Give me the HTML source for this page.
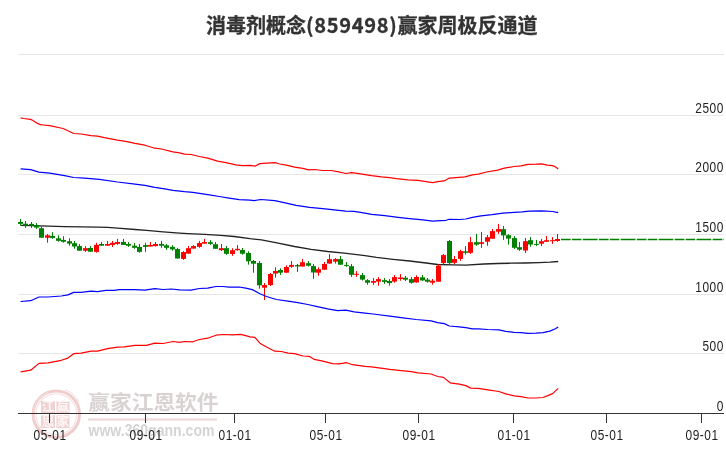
<!DOCTYPE html>
<html><head><meta charset="utf-8"><style>
html,body{margin:0;padding:0;background:#fff;}
body{width:726px;height:450px;overflow:hidden;position:relative;}
.title{position:absolute;left:206px;top:9.8px;text-align:left;-webkit-text-stroke:0.3px #333;font-family:"Noto Sans CJK SC","Liberation Sans",sans-serif;font-weight:bold;font-size:20px;line-height:30px;color:#333;white-space:nowrap;}
svg{position:absolute;left:0;top:0;}
.num{letter-spacing:0.7px;}
</style></head><body>
<div class="title">消毒剂概念<span class="num">(859498)</span>赢家周极反通道</div>
<svg width="726" height="450" viewBox="0 0 726 450">
<line x1="18" y1="54.5" x2="724" y2="54.5" stroke="#e6e6e6" stroke-width="1"/>
<line x1="18" y1="115.5" x2="724" y2="115.5" stroke="#e6e6e6" stroke-width="1"/>
<line x1="18" y1="174.5" x2="724" y2="174.5" stroke="#e6e6e6" stroke-width="1"/>
<line x1="18" y1="234.5" x2="724" y2="234.5" stroke="#e6e6e6" stroke-width="1"/>
<line x1="18" y1="294.5" x2="724" y2="294.5" stroke="#e6e6e6" stroke-width="1"/>
<line x1="18" y1="353.5" x2="724" y2="353.5" stroke="#e6e6e6" stroke-width="1"/>
<g>
<circle cx="56.3" cy="414.2" r="23.2" fill="none" stroke="#efcdcd" stroke-width="3"/>
<path d="M65 389.5 A26 26 0 0 1 79 402" fill="none" stroke="#f4dede" stroke-width="1"/>
<circle cx="56.3" cy="414.2" r="20.4" fill="none" stroke="#f6e3e3" stroke-width="1.2"/>
<path d="M34.5 420 A22.5 22.5 0 0 1 48 393" fill="none" stroke="#f3dada" stroke-width="1.5"/>
<rect x="41" y="401" width="14" height="12" fill="#f0d2d2"/>
<text x="48.0" y="411.4" font-size="12.5" text-anchor="middle" fill="#fcf6f6" font-family="Noto Sans CJK SC, sans-serif" font-weight="bold">江</text>
<rect x="56.5" y="401" width="13" height="12" fill="#f0d2d2"/>
<text x="63.0" y="411.4" font-size="12.5" text-anchor="middle" fill="#fcf6f6" font-family="Noto Sans CJK SC, sans-serif" font-weight="bold">赢</text>
<rect x="41" y="415.3" width="14" height="12.7" fill="#f0d2d2"/>
<text x="48.0" y="426.4" font-size="12.5" text-anchor="middle" fill="#fcf6f6" font-family="Noto Sans CJK SC, sans-serif" font-weight="bold">恩</text>
<rect x="56.5" y="415.3" width="13" height="12.7" fill="#f0d2d2"/>
<text x="63.0" y="426.4" font-size="12.5" text-anchor="middle" fill="#fcf6f6" font-family="Noto Sans CJK SC, sans-serif" font-weight="bold">家</text>
</g>
<text transform="translate(88.2,409.6) scale(0.988,0.925)" font-size="22" font-weight="bold" fill="#d8d2d2" font-family="Liberation Sans, Noto Sans CJK SC, sans-serif">赢家江恩软件</text>
<rect x="88" y="418.3" width="129" height="2.4" fill="#efdcdc"/>
<text x="88.5" y="436" font-size="17" font-weight="bold" fill="#d4d4d4" font-family="Liberation Sans, sans-serif" textLength="126" lengthAdjust="spacingAndGlyphs">www.360gann.com</text>
<polyline points="20.9,225.4 31.5,225.7 48.1,226.2 64.6,226.6 81.1,226.9 97.6,227.2 107.6,227.4 117.5,228.2 135.0,229.5 146.5,230.4 163.1,231.9 179.6,233.2 187.9,233.7 204.4,234.4 220.9,235.4 234.1,236.5 250.0,238.7 261.5,239.9 278.1,243.2 294.6,246.5 311.1,249.3 327.6,251.5 344.2,253.1 365.0,255.6 376.5,257.4 393.0,259.3 409.6,261.0 426.1,263.0 437.7,264.5 452.6,264.8 465.8,265.1 483.8,264.0 497.5,263.5 511.3,263.2 525.1,263.0 538.9,262.6 549.9,262.1 558.2,261.5" fill="none" stroke="#222" stroke-width="1.3" stroke-linejoin="round"/>
<rect x="20" y="219.0" width="1" height="6.7" fill="#008000"/>
<rect x="18" y="222.0" width="5" height="1.9" fill="#008000"/>
<rect x="25" y="221.0" width="1" height="6.9" fill="#008000"/>
<rect x="23" y="223.7" width="5" height="1.8" fill="#008000"/>
<rect x="31" y="222.0" width="1" height="5.9" fill="#008000"/>
<rect x="29" y="223.9" width="5" height="1.8" fill="#008000"/>
<rect x="36" y="223.0" width="1" height="5.8" fill="#008000"/>
<rect x="34" y="225.2" width="5" height="2.4" fill="#008000"/>
<rect x="41" y="226.1" width="1" height="11.6" fill="#008000"/>
<rect x="39" y="228.2" width="5" height="9.5" fill="#008000"/>
<rect x="47" y="234.1" width="1" height="8.6" fill="#ff0000"/>
<rect x="45" y="235.3" width="5" height="2.4" fill="#ff0000"/>
<rect x="52" y="232.2" width="1" height="6.6" fill="#008000"/>
<rect x="50" y="235.9" width="5" height="2.0" fill="#008000"/>
<rect x="58" y="235.3" width="1" height="6.4" fill="#008000"/>
<rect x="56" y="238.3" width="5" height="2.5" fill="#008000"/>
<rect x="63" y="236.2" width="1" height="6.5" fill="#008000"/>
<rect x="61" y="239.9" width="5" height="1.9" fill="#008000"/>
<rect x="69" y="238.3" width="1" height="7.4" fill="#008000"/>
<rect x="67" y="241.2" width="5" height="2.4" fill="#008000"/>
<rect x="74" y="241.0" width="1" height="7.8" fill="#008000"/>
<rect x="72" y="243.2" width="5" height="3.3" fill="#008000"/>
<rect x="79" y="244.0" width="1" height="6.7" fill="#008000"/>
<rect x="77" y="246.1" width="5" height="4.6" fill="#008000"/>
<rect x="85" y="246.1" width="1" height="5.8" fill="#ff0000"/>
<rect x="83" y="248.2" width="5" height="2.5" fill="#ff0000"/>
<rect x="90" y="246.0" width="1" height="5.9" fill="#008000"/>
<rect x="88" y="248.0" width="5" height="3.7" fill="#008000"/>
<rect x="96" y="242.8" width="1" height="9.9" fill="#ff0000"/>
<rect x="94" y="244.9" width="5" height="7.0" fill="#ff0000"/>
<rect x="101" y="242.0" width="1" height="3.7" fill="#008000"/>
<rect x="99" y="244.0" width="5" height="1.7" fill="#008000"/>
<rect x="107" y="240.9" width="1" height="4.8" fill="#ff0000"/>
<rect x="105" y="244.0" width="5" height="1.7" fill="#ff0000"/>
<rect x="112" y="240.9" width="1" height="6.0" fill="#ff0000"/>
<rect x="110" y="242.8" width="5" height="2.1" fill="#ff0000"/>
<rect x="117" y="238.9" width="1" height="6.0" fill="#ff0000"/>
<rect x="115" y="242.0" width="5" height="1.9" fill="#ff0000"/>
<rect x="123" y="238.9" width="1" height="6.0" fill="#008000"/>
<rect x="121" y="242.0" width="5" height="2.9" fill="#008000"/>
<rect x="128" y="242.0" width="1" height="4.9" fill="#008000"/>
<rect x="126" y="244.0" width="5" height="1.7" fill="#008000"/>
<rect x="134" y="243.0" width="1" height="5.8" fill="#008000"/>
<rect x="132" y="245.7" width="5" height="2.1" fill="#008000"/>
<rect x="139" y="244.0" width="1" height="8.7" fill="#008000"/>
<rect x="137" y="246.9" width="5" height="5.0" fill="#008000"/>
<rect x="145" y="242.8" width="1" height="9.1" fill="#008000"/>
<rect x="143" y="245.1" width="5" height="1.8" fill="#008000"/>
<rect x="150" y="242.0" width="1" height="4.5" fill="#ff0000"/>
<rect x="148" y="244.9" width="5" height="1.6" fill="#ff0000"/>
<rect x="155" y="242.0" width="1" height="4.5" fill="#ff0000"/>
<rect x="153" y="244.0" width="5" height="2.1" fill="#ff0000"/>
<rect x="161" y="240.9" width="1" height="6.9" fill="#008000"/>
<rect x="159" y="243.9" width="5" height="1.8" fill="#008000"/>
<rect x="166" y="244.0" width="1" height="5.8" fill="#008000"/>
<rect x="164" y="245.3" width="5" height="2.5" fill="#008000"/>
<rect x="172" y="245.1" width="1" height="5.6" fill="#008000"/>
<rect x="170" y="246.9" width="5" height="2.5" fill="#008000"/>
<rect x="177" y="247.8" width="1" height="10.7" fill="#008000"/>
<rect x="175" y="249.0" width="5" height="9.5" fill="#008000"/>
<rect x="183" y="251.1" width="1" height="8.7" fill="#ff0000"/>
<rect x="181" y="252.1" width="5" height="6.8" fill="#ff0000"/>
<rect x="188" y="246.0" width="1" height="7.8" fill="#ff0000"/>
<rect x="186" y="248.2" width="5" height="5.4" fill="#ff0000"/>
<rect x="193" y="245.1" width="1" height="3.5" fill="#ff0000"/>
<rect x="191" y="246.1" width="5" height="2.5" fill="#ff0000"/>
<rect x="199" y="240.9" width="1" height="6.9" fill="#ff0000"/>
<rect x="197" y="243.0" width="5" height="3.9" fill="#ff0000"/>
<rect x="204" y="238.9" width="1" height="4.7" fill="#ff0000"/>
<rect x="202" y="242.0" width="5" height="1.6" fill="#ff0000"/>
<rect x="210" y="240.1" width="1" height="4.8" fill="#008000"/>
<rect x="208" y="242.2" width="5" height="1.7" fill="#008000"/>
<rect x="215" y="242.0" width="1" height="6.8" fill="#008000"/>
<rect x="213" y="244.2" width="5" height="4.6" fill="#008000"/>
<rect x="221" y="244.0" width="1" height="7.1" fill="#ff0000"/>
<rect x="219" y="248.2" width="5" height="2.0" fill="#ff0000"/>
<rect x="226" y="246.1" width="1" height="8.7" fill="#008000"/>
<rect x="224" y="248.2" width="5" height="5.6" fill="#008000"/>
<rect x="232" y="248.2" width="1" height="7.6" fill="#ff0000"/>
<rect x="230" y="250.2" width="5" height="3.8" fill="#ff0000"/>
<rect x="237" y="245.1" width="1" height="5.6" fill="#ff0000"/>
<rect x="235" y="248.8" width="5" height="1.4" fill="#ff0000"/>
<rect x="242" y="248.0" width="1" height="6.7" fill="#008000"/>
<rect x="240" y="250.0" width="5" height="3.7" fill="#008000"/>
<rect x="248" y="251.3" width="1" height="13.4" fill="#008000"/>
<rect x="246" y="253.0" width="5" height="8.3" fill="#008000"/>
<rect x="253" y="260.0" width="1" height="12.7" fill="#008000"/>
<rect x="251" y="261.0" width="5" height="2.7" fill="#008000"/>
<rect x="259" y="261.0" width="1" height="27.7" fill="#008000"/>
<rect x="257" y="263.0" width="5" height="22.3" fill="#008000"/>
<rect x="264" y="283.0" width="1" height="17.0" fill="#ff0000"/>
<rect x="262" y="285.0" width="5" height="2.7" fill="#ff0000"/>
<rect x="270" y="273.0" width="1" height="13.0" fill="#ff0000"/>
<rect x="268" y="274.0" width="5" height="11.0" fill="#ff0000"/>
<rect x="275" y="267.3" width="1" height="10.3" fill="#ff0000"/>
<rect x="273" y="271.0" width="5" height="2.6" fill="#ff0000"/>
<rect x="280" y="268.3" width="1" height="6.7" fill="#008000"/>
<rect x="278" y="270.0" width="5" height="2.7" fill="#008000"/>
<rect x="286" y="265.3" width="1" height="7.4" fill="#ff0000"/>
<rect x="284" y="267.0" width="5" height="5.7" fill="#ff0000"/>
<rect x="291" y="261.0" width="1" height="6.8" fill="#ff0000"/>
<rect x="289" y="264.9" width="5" height="1.9" fill="#ff0000"/>
<rect x="297" y="264.0" width="1" height="7.9" fill="#008000"/>
<rect x="295" y="265.1" width="5" height="1.4" fill="#008000"/>
<rect x="302" y="258.9" width="1" height="7.6" fill="#ff0000"/>
<rect x="300" y="262.2" width="5" height="4.3" fill="#ff0000"/>
<rect x="308" y="261.0" width="1" height="5.5" fill="#008000"/>
<rect x="306" y="263.2" width="5" height="2.5" fill="#008000"/>
<rect x="313" y="264.0" width="1" height="14.9" fill="#008000"/>
<rect x="311" y="266.1" width="5" height="6.4" fill="#008000"/>
<rect x="318" y="267.2" width="1" height="8.6" fill="#ff0000"/>
<rect x="316" y="269.2" width="5" height="3.5" fill="#ff0000"/>
<rect x="324" y="262.0" width="1" height="7.7" fill="#ff0000"/>
<rect x="322" y="264.0" width="5" height="5.7" fill="#ff0000"/>
<rect x="329" y="254.1" width="1" height="9.5" fill="#ff0000"/>
<rect x="327" y="259.1" width="5" height="4.5" fill="#ff0000"/>
<rect x="335" y="258.1" width="1" height="5.5" fill="#ff0000"/>
<rect x="333" y="259.1" width="5" height="2.5" fill="#ff0000"/>
<rect x="340" y="256.0" width="1" height="8.7" fill="#008000"/>
<rect x="338" y="259.1" width="5" height="5.6" fill="#008000"/>
<rect x="346" y="262.0" width="1" height="4.9" fill="#008000"/>
<rect x="344" y="264.9" width="5" height="1.0" fill="#008000"/>
<rect x="351" y="263.9" width="1" height="13.0" fill="#008000"/>
<rect x="349" y="266.2" width="5" height="8.6" fill="#008000"/>
<rect x="356" y="271.1" width="1" height="5.8" fill="#ff0000"/>
<rect x="354" y="273.8" width="5" height="1.0" fill="#ff0000"/>
<rect x="362" y="273.0" width="1" height="7.6" fill="#008000"/>
<rect x="360" y="275.1" width="5" height="4.5" fill="#008000"/>
<rect x="367" y="279.1" width="1" height="5.7" fill="#008000"/>
<rect x="365" y="280.2" width="5" height="2.5" fill="#008000"/>
<rect x="373" y="278.1" width="1" height="6.7" fill="#ff0000"/>
<rect x="371" y="281.0" width="5" height="1.7" fill="#ff0000"/>
<rect x="378" y="277.1" width="1" height="8.6" fill="#ff0000"/>
<rect x="376" y="279.1" width="5" height="2.5" fill="#ff0000"/>
<rect x="384" y="278.1" width="1" height="5.8" fill="#008000"/>
<rect x="382" y="280.2" width="5" height="1.7" fill="#008000"/>
<rect x="389" y="279.1" width="1" height="6.6" fill="#008000"/>
<rect x="387" y="281.0" width="5" height="2.1" fill="#008000"/>
<rect x="394" y="275.0" width="1" height="7.7" fill="#ff0000"/>
<rect x="392" y="277.1" width="5" height="4.5" fill="#ff0000"/>
<rect x="400" y="274.0" width="1" height="6.7" fill="#ff0000"/>
<rect x="398" y="277.5" width="5" height="1.5" fill="#ff0000"/>
<rect x="405" y="276.0" width="1" height="5.0" fill="#008000"/>
<rect x="403" y="277.7" width="5" height="2.0" fill="#008000"/>
<rect x="411" y="277.0" width="1" height="6.6" fill="#008000"/>
<rect x="409" y="279.1" width="5" height="3.6" fill="#008000"/>
<rect x="416" y="275.3" width="1" height="7.4" fill="#ff0000"/>
<rect x="414" y="277.0" width="5" height="5.4" fill="#ff0000"/>
<rect x="422" y="275.0" width="1" height="6.0" fill="#008000"/>
<rect x="420" y="277.3" width="5" height="3.1" fill="#008000"/>
<rect x="427" y="278.0" width="1" height="4.7" fill="#008000"/>
<rect x="425" y="279.6" width="5" height="2.1" fill="#008000"/>
<rect x="432" y="279.0" width="1" height="5.7" fill="#ff0000"/>
<rect x="430" y="280.7" width="5" height="2.0" fill="#ff0000"/>
<rect x="438" y="264.4" width="1" height="17.3" fill="#ff0000"/>
<rect x="436" y="265.7" width="5" height="16.0" fill="#ff0000"/>
<rect x="443" y="254.0" width="1" height="10.4" fill="#ff0000"/>
<rect x="441" y="255.0" width="5" height="8.1" fill="#ff0000"/>
<rect x="449" y="240.0" width="1" height="24.4" fill="#008000"/>
<rect x="447" y="241.0" width="5" height="22.1" fill="#008000"/>
<rect x="454" y="256.0" width="1" height="8.0" fill="#ff0000"/>
<rect x="452" y="259.0" width="5" height="3.8" fill="#ff0000"/>
<rect x="460" y="249.8" width="1" height="11.1" fill="#ff0000"/>
<rect x="458" y="251.1" width="5" height="7.8" fill="#ff0000"/>
<rect x="465" y="246.1" width="1" height="8.6" fill="#008000"/>
<rect x="463" y="251.3" width="5" height="1.5" fill="#008000"/>
<rect x="470" y="236.9" width="1" height="17.0" fill="#ff0000"/>
<rect x="468" y="242.2" width="5" height="10.6" fill="#ff0000"/>
<rect x="476" y="233.9" width="1" height="11.9" fill="#008000"/>
<rect x="474" y="242.2" width="5" height="2.5" fill="#008000"/>
<rect x="481" y="232.0" width="1" height="15.8" fill="#ff0000"/>
<rect x="479" y="242.2" width="5" height="1.7" fill="#ff0000"/>
<rect x="487" y="235.0" width="1" height="10.8" fill="#ff0000"/>
<rect x="485" y="237.2" width="5" height="4.5" fill="#ff0000"/>
<rect x="492" y="228.9" width="1" height="9.8" fill="#ff0000"/>
<rect x="490" y="231.1" width="5" height="7.6" fill="#ff0000"/>
<rect x="498" y="223.9" width="1" height="10.0" fill="#ff0000"/>
<rect x="496" y="229.1" width="5" height="2.6" fill="#ff0000"/>
<rect x="503" y="226.0" width="1" height="13.8" fill="#008000"/>
<rect x="501" y="229.2" width="5" height="6.2" fill="#008000"/>
<rect x="508" y="234.1" width="1" height="10.6" fill="#008000"/>
<rect x="506" y="235.2" width="5" height="3.4" fill="#008000"/>
<rect x="514" y="236.0" width="1" height="12.9" fill="#008000"/>
<rect x="512" y="238.1" width="5" height="9.7" fill="#008000"/>
<rect x="519" y="242.0" width="1" height="8.9" fill="#008000"/>
<rect x="517" y="247.2" width="5" height="2.5" fill="#008000"/>
<rect x="525" y="238.1" width="1" height="14.9" fill="#ff0000"/>
<rect x="523" y="241.2" width="5" height="9.3" fill="#ff0000"/>
<rect x="530" y="237.1" width="1" height="9.7" fill="#008000"/>
<rect x="528" y="240.2" width="5" height="4.3" fill="#008000"/>
<rect x="536" y="240.0" width="1" height="6.0" fill="#008000"/>
<rect x="534" y="243.9" width="5" height="1.0" fill="#008000"/>
<rect x="541" y="238.9" width="1" height="7.1" fill="#ff0000"/>
<rect x="539" y="241.2" width="5" height="2.5" fill="#ff0000"/>
<rect x="546" y="236.0" width="1" height="5.8" fill="#ff0000"/>
<rect x="544" y="240.2" width="5" height="1.6" fill="#ff0000"/>
<rect x="552" y="237.1" width="1" height="6.8" fill="#ff0000"/>
<rect x="550" y="240.2" width="5" height="1.0" fill="#ff0000"/>
<rect x="557" y="234.0" width="1" height="7.8" fill="#ff0000"/>
<rect x="555" y="239.0" width="5" height="2.0" fill="#ff0000"/>
<polyline points="20.6,117.9 23.5,118.5 30.5,119.4 32.6,120.3 37.6,123.4 40.4,124.7 43.1,125.0 49.7,125.7 63.0,128.5 67.9,130.7 73.7,133.5 81.1,134.0 91.0,135.6 97.6,136.1 104.3,137.6 117.5,140.2 125.7,141.4 135.0,143.4 144.9,145.2 154.8,148.2 161.4,149.0 173.0,151.9 179.6,152.9 184.5,154.2 191.2,154.5 199.4,156.5 207.7,158.1 217.6,161.1 225.9,162.6 235.8,164.8 242.4,165.6 250.0,165.4 254.9,166.2 259.9,163.6 266.5,163.2 275.6,162.7 279.7,164.0 286.3,165.2 294.6,167.2 302.9,168.3 308.6,169.8 314.4,169.5 322.7,170.5 331.0,170.5 337.6,171.7 345.8,173.5 351.6,172.6 359.0,173.6 371.6,175.6 381.5,176.9 389.8,177.6 396.4,178.6 407.9,179.8 417.9,180.4 426.1,181.7 432.7,182.6 437.7,181.7 444.3,180.9 449.3,178.1 455.9,177.6 465.0,176.8 472.4,174.8 478.3,174.1 486.5,172.0 497.5,170.2 504.4,168.2 514.1,166.5 521.0,165.8 527.9,164.3 536.1,164.2 541.6,163.9 547.1,165.2 552.6,165.6 555.4,166.8 558.2,168.9" fill="none" stroke="#ff0000" stroke-width="1.2" stroke-linejoin="round"/>
<polyline points="20.6,168.8 30.7,169.6 39.0,172.1 49.7,173.2 64.6,175.7 73.7,177.5 84.4,178.2 99.3,179.3 117.5,182.0 135.0,184.1 144.9,185.4 154.8,187.4 163.1,188.6 173.0,190.4 184.5,191.7 192.8,192.4 201.1,193.7 209.3,194.8 219.3,196.5 229.2,198.1 239.1,199.6 250.0,200.1 254.1,200.7 260.7,199.5 274.8,200.7 286.3,203.2 296.2,205.3 309.5,207.3 322.7,208.6 334.3,209.8 345.8,211.1 354.1,211.4 365.0,213.1 371.6,214.3 384.8,215.7 398.0,217.3 409.6,218.6 422.8,219.8 432.7,221.1 441.0,220.6 446.0,220.3 449.3,219.3 459.2,219.5 465.8,219.0 472.4,217.3 481.0,215.9 492.0,214.7 503.0,213.2 514.1,212.4 522.3,211.8 529.2,211.1 541.6,210.8 552.6,211.5 558.2,212.6" fill="none" stroke="#0000ff" stroke-width="1.2" stroke-linejoin="round"/>
<polyline points="20.6,301.5 30.7,300.7 39.0,297.0 48.1,297.0 61.3,296.0 67.9,294.9 73.7,292.4 81.1,292.4 91.0,291.2 97.6,291.6 105.9,290.4 114.2,290.4 119.1,289.6 135.0,289.6 144.9,290.2 154.8,288.7 163.1,289.5 171.3,289.0 179.6,289.8 191.2,290.2 199.4,288.5 207.7,288.2 216.0,286.5 222.6,286.5 229.2,287.2 239.1,287.0 245.7,288.2 252.4,289.6 259.9,293.7 266.5,296.5 276.4,299.5 288.0,301.2 297.9,302.6 307.8,304.5 316.1,306.4 327.6,308.9 337.6,310.6 345.8,310.2 354.1,311.9 365.0,313.1 373.2,314.0 389.8,316.2 403.0,317.9 416.2,319.5 431.1,320.8 437.7,322.6 444.3,323.6 449.3,326.0 459.2,326.8 465.8,327.6 472.4,328.9 478.3,328.8 487.9,329.5 498.9,329.9 505.8,331.3 514.1,332.4 521.0,332.6 527.9,333.3 536.1,333.2 543.0,332.6 549.9,331.1 555.4,328.8 558.2,327.0" fill="none" stroke="#0000ff" stroke-width="1.2" stroke-linejoin="round"/>
<polyline points="20.6,371.9 30.7,370.2 39.0,363.4 48.1,362.8 61.3,360.3 67.9,358.1 73.7,353.7 81.1,353.2 91.0,351.2 97.6,351.2 107.6,348.7 117.5,347.1 124.1,346.9 135.0,345.4 138.3,345.3 146.5,345.3 154.8,343.1 163.1,343.5 173.0,341.5 179.6,342.3 184.5,341.5 192.8,341.8 199.4,339.5 207.7,338.2 216.0,335.2 222.6,334.5 232.5,334.9 240.7,334.4 245.7,335.7 250.0,336.9 254.9,337.4 259.9,343.2 266.5,347.0 274.8,351.2 281.4,351.5 288.0,353.1 294.6,353.6 302.9,356.0 309.5,356.4 314.4,359.4 322.7,361.1 332.6,363.6 339.2,363.9 346.7,362.7 352.4,364.7 365.0,366.4 371.6,366.9 389.8,369.4 401.3,370.7 411.2,371.6 417.9,372.9 431.1,374.0 437.7,376.5 443.5,377.4 450.1,382.8 459.2,384.1 465.8,385.6 470.7,388.1 478.3,388.4 487.9,389.9 498.9,391.5 505.8,393.9 514.1,395.9 521.0,396.6 527.9,398.0 536.1,398.0 543.0,397.5 548.5,395.4 552.6,393.6 558.2,388.4" fill="none" stroke="#ff0000" stroke-width="1.2" stroke-linejoin="round"/>
<line x1="561" y1="239.5" x2="724" y2="239.5" stroke="#008000" stroke-width="1.3" stroke-dasharray="9.7 1.2 9.6 1.3 14.8 1.3"/>
<line x1="18" y1="413.5" x2="724" y2="413.5" stroke="#333" stroke-width="1"/>
<line x1="49.5" y1="413" x2="49.5" y2="423" stroke="#333" stroke-width="1"/>
<text transform="translate(50.1,439.9) scale(0.85,1)" font-size="14" letter-spacing="0.6" text-anchor="middle" fill="#222" font-family="Liberation Sans, sans-serif">05-01</text>
<line x1="145.5" y1="413" x2="145.5" y2="423" stroke="#333" stroke-width="1"/>
<text transform="translate(146.1,439.9) scale(0.85,1)" font-size="14" letter-spacing="0.6" text-anchor="middle" fill="#222" font-family="Liberation Sans, sans-serif">09-01</text>
<line x1="234.5" y1="413" x2="234.5" y2="423" stroke="#333" stroke-width="1"/>
<text transform="translate(235.1,439.9) scale(0.85,1)" font-size="14" letter-spacing="0.6" text-anchor="middle" fill="#222" font-family="Liberation Sans, sans-serif">01-01</text>
<line x1="325.5" y1="413" x2="325.5" y2="423" stroke="#333" stroke-width="1"/>
<text transform="translate(326.1,439.9) scale(0.85,1)" font-size="14" letter-spacing="0.6" text-anchor="middle" fill="#222" font-family="Liberation Sans, sans-serif">05-01</text>
<line x1="418.5" y1="413" x2="418.5" y2="423" stroke="#333" stroke-width="1"/>
<text transform="translate(419.1,439.9) scale(0.85,1)" font-size="14" letter-spacing="0.6" text-anchor="middle" fill="#222" font-family="Liberation Sans, sans-serif">09-01</text>
<line x1="513.5" y1="413" x2="513.5" y2="423" stroke="#333" stroke-width="1"/>
<text transform="translate(514.1,439.9) scale(0.85,1)" font-size="14" letter-spacing="0.6" text-anchor="middle" fill="#222" font-family="Liberation Sans, sans-serif">01-01</text>
<line x1="606.5" y1="413" x2="606.5" y2="423" stroke="#333" stroke-width="1"/>
<text transform="translate(607.1,439.9) scale(0.85,1)" font-size="14" letter-spacing="0.6" text-anchor="middle" fill="#222" font-family="Liberation Sans, sans-serif">05-01</text>
<line x1="701.5" y1="413" x2="701.5" y2="423" stroke="#333" stroke-width="1"/>
<text transform="translate(702.1,439.9) scale(0.85,1)" font-size="14" letter-spacing="0.6" text-anchor="middle" fill="#222" font-family="Liberation Sans, sans-serif">09-01</text>
<text transform="translate(723.8,113.3) scale(0.85,1)" font-size="14" letter-spacing="0.6" text-anchor="end" fill="#222" font-family="Liberation Sans, sans-serif">2500</text>
<text transform="translate(723.8,172.3) scale(0.85,1)" font-size="14" letter-spacing="0.6" text-anchor="end" fill="#222" font-family="Liberation Sans, sans-serif">2000</text>
<text transform="translate(723.8,232.3) scale(0.85,1)" font-size="14" letter-spacing="0.6" text-anchor="end" fill="#222" font-family="Liberation Sans, sans-serif">1500</text>
<text transform="translate(723.8,292.3) scale(0.85,1)" font-size="14" letter-spacing="0.6" text-anchor="end" fill="#222" font-family="Liberation Sans, sans-serif">1000</text>
<text transform="translate(723.8,351.3) scale(0.85,1)" font-size="14" letter-spacing="0.6" text-anchor="end" fill="#222" font-family="Liberation Sans, sans-serif">500</text>
<text transform="translate(723.8,411.3) scale(0.85,1)" font-size="14" letter-spacing="0.6" text-anchor="end" fill="#222" font-family="Liberation Sans, sans-serif">0</text>
</svg>
</body></html>
